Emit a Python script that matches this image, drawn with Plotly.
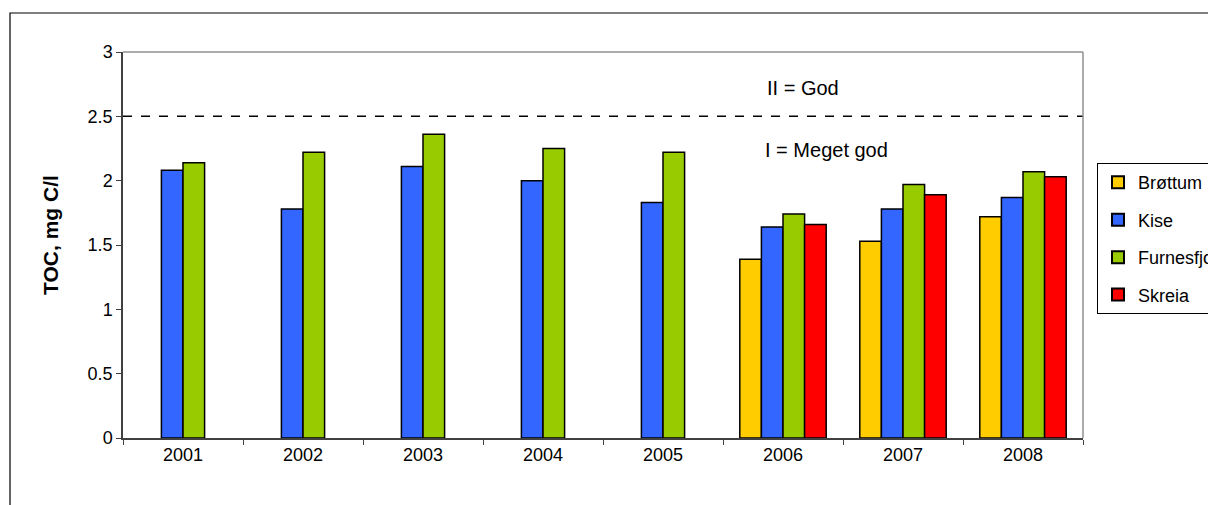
import plotly.graph_objects as go

years = ["2001", "2002", "2003", "2004", "2005", "2006", "2007", "2008"]
brottum = [None, None, None, None, None, 1.39, 1.53, 1.72]
kise = [2.08, 1.78, 2.11, 2.00, 1.83, 1.64, 1.78, 1.87]
furnesfjorden = [2.14, 2.22, 2.36, 2.25, 2.22, 1.74, 1.97, 2.07]
skreia = [None, None, None, None, None, 1.66, 1.89, 2.03]

series = [
    ("Brøttum", brottum, "#FFCC00"),
    ("Kise", kise, "#3366FF"),
    ("Furnesfjorden", furnesfjorden, "#99CC00"),
    ("Skreia", skreia, "#FF0000"),
]

FONT = "Liberation Sans, Arial, sans-serif"

fig = go.Figure()
for name, vals, color in series:
    fig.add_trace(go.Bar(
        x=years, y=vals, name=name, legendgroup=name,
        marker=dict(color=color, line=dict(color="black", width=1.5)),
    ))

# klassegrense II/I
fig.add_hline(y=2.5, line=dict(color="black", width=1.5, dash="dash"))
fig.add_annotation(x=0.708, y=2.72, xref="paper", yref="y", text="II = God",
                   xanchor="center", yanchor="middle", showarrow=False,
                   font=dict(size=20, color="black", family=FONT))
fig.add_annotation(x=0.733, y=2.24, xref="paper", yref="y", text="I = Meget god",
                   xanchor="center", yanchor="middle", showarrow=False,
                   font=dict(size=20, color="black", family=FONT))

# y-akse tittel
fig.add_annotation(x=-0.075, y=0.526, xref="paper", yref="paper", text="<b>TOC, mg C/l</b>",
                   textangle=-90, xanchor="center", yanchor="middle", showarrow=False,
                   font=dict(size=21, color="black", family=FONT))

# ytre ramme og plottramme
fig.add_shape(type="rect", xref="paper", yref="paper", x0=-0.1177, y0=-0.3, x1=1.2, y1=1.101,
              line=dict(color="black", width=1.2), layer="below")
fig.add_shape(type="line", xref="paper", yref="paper", x0=0, y0=1, x1=1, y1=1,
              line=dict(color="#909090", width=1.5))
fig.add_shape(type="line", xref="paper", yref="paper", x0=1, y0=0, x1=1, y1=1,
              line=dict(color="#909090", width=1.5))

fig.update_layout(
    width=1216, height=505,
    margin=dict(l=115, r=141, t=44, b=75, autoexpand=False),
    paper_bgcolor="white", plot_bgcolor="white",
    barmode="group", bargap=0.28, bargroupgap=0,
    font=dict(family=FONT, size=18, color="black"),
    showlegend=True,
    legend=dict(x=1.0146, y=0.712, xanchor="left", yanchor="top",
                bordercolor="black", borderwidth=1, bgcolor="white",
                font=dict(size=18), itemsizing="constant", tracegroupgap=11),
    xaxis=dict(showline=True, linecolor="#404040", linewidth=1.5,
               ticks="outside", tickson="boundaries", ticklen=5, tickcolor="#404040",
               showgrid=False, zeroline=False),
    yaxis=dict(range=[0, 3], dtick=0.5, showline=True, linecolor="#404040", linewidth=1.5,
               ticks="outside", ticklen=5, tickcolor="#404040", showgrid=False,
               zeroline=False, tickformat="~g"),
)

fig.write_html("out.html")
